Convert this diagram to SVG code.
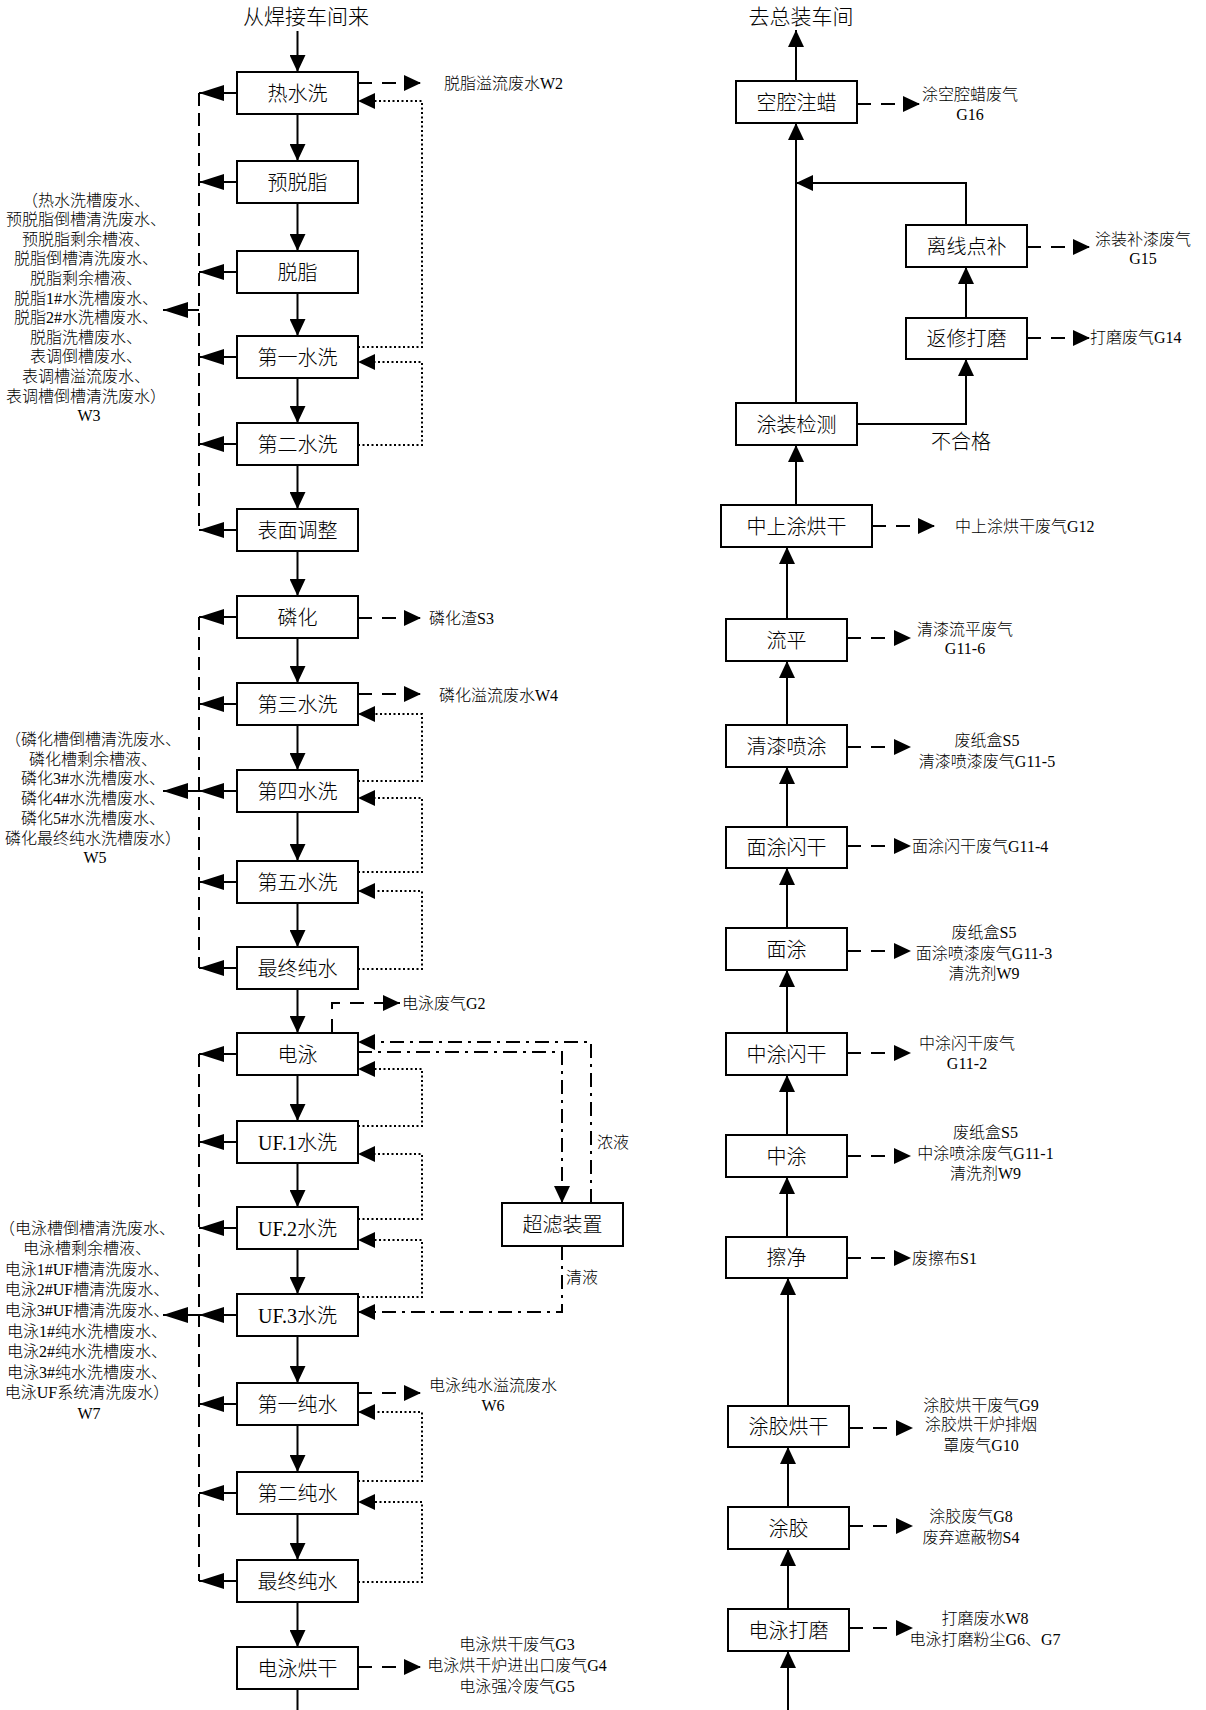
<svg xmlns="http://www.w3.org/2000/svg" width="1206" height="1710" viewBox="0 0 1206 1710">
<style>
text{font-family:"Liberation Serif","Noto Sans CJK SC",serif;fill:#000}
.b{font-size:20px;text-anchor:middle;font-weight:300}
.t{font-size:16px;font-weight:300}
.m{text-anchor:middle}
.bx{fill:#fff;stroke:#000;stroke-width:2}
.s{fill:none;stroke:#000;stroke-width:2}
.d{stroke-dasharray:14 10}
.dl{stroke-dasharray:13 7}
.dt{stroke-dasharray:2 2.5}
.dd{stroke-dasharray:14 6 3 6}
</style>
<defs>
<marker id="a" viewBox="0 0 17 16" refX="17" refY="8" markerWidth="17" markerHeight="16" markerUnits="userSpaceOnUse" orient="auto"><path d="M0,0L17,8L0,16z" fill="#000"/></marker>
<marker id="al" viewBox="0 0 25 16" refX="25" refY="8" markerWidth="25" markerHeight="16" markerUnits="userSpaceOnUse" orient="auto"><path d="M0,0L25,8L0,16z" fill="#000"/></marker>
</defs>
<rect width="1206" height="1710" fill="#fff"/>

<g id="connectors">
<!-- left main flow -->
<path class="s" marker-end="url(#a)" d="M297.5,31V72"/>
<path class="s" marker-end="url(#a)" d="M297.5,114V161"/>
<path class="s" marker-end="url(#a)" d="M297.5,203V251"/>
<path class="s" marker-end="url(#a)" d="M297.5,293V336"/>
<path class="s" marker-end="url(#a)" d="M297.5,378V423"/>
<path class="s" marker-end="url(#a)" d="M297.5,465V509"/>
<path class="s" marker-end="url(#a)" d="M297.5,551V596"/>
<path class="s" marker-end="url(#a)" d="M297.5,638V683"/>
<path class="s" marker-end="url(#a)" d="M297.5,725V770"/>
<path class="s" marker-end="url(#a)" d="M297.5,812V861"/>
<path class="s" marker-end="url(#a)" d="M297.5,903V947"/>
<path class="s" marker-end="url(#a)" d="M297.5,989V1033"/>
<path class="s" marker-end="url(#a)" d="M297.5,1075V1121"/>
<path class="s" marker-end="url(#a)" d="M297.5,1163V1207"/>
<path class="s" marker-end="url(#a)" d="M297.5,1249V1294"/>
<path class="s" marker-end="url(#a)" d="M297.5,1336V1383"/>
<path class="s" marker-end="url(#a)" d="M297.5,1425V1472"/>
<path class="s" marker-end="url(#a)" d="M297.5,1514V1560"/>
<path class="s" marker-end="url(#a)" d="M297.5,1602V1647"/>
<path class="s" d="M297.5,1689V1710"/>

<!-- left arrows to drain lines -->
<path class="s" marker-end="url(#al)" d="M237,93H199"/>
<path class="s" marker-end="url(#al)" d="M237,182H199"/>
<path class="s" marker-end="url(#al)" d="M237,272H199"/>
<path class="s" marker-end="url(#al)" d="M237,357H199"/>
<path class="s" marker-end="url(#al)" d="M237,444H199"/>
<path class="s" marker-end="url(#al)" d="M237,530H199"/>
<path class="s" marker-end="url(#al)" d="M237,617H199"/>
<path class="s" marker-end="url(#al)" d="M237,704H199"/>
<path class="s" marker-end="url(#al)" d="M237,791H199"/>
<path class="s" marker-end="url(#al)" d="M237,882H199"/>
<path class="s" marker-end="url(#al)" d="M237,968H199"/>
<path class="s" marker-end="url(#al)" d="M237,1054H199"/>
<path class="s" marker-end="url(#al)" d="M237,1142H199"/>
<path class="s" marker-end="url(#al)" d="M237,1228H199"/>
<path class="s" marker-end="url(#al)" d="M237,1315H199"/>
<path class="s" marker-end="url(#al)" d="M237,1404H199"/>
<path class="s" marker-end="url(#al)" d="M237,1493H199"/>
<path class="s" marker-end="url(#al)" d="M237,1581H199"/>
<path class="s dl" d="M199,93V530"/>
<path class="s dl" d="M199,617V968"/>
<path class="s dl" d="M199,1054V1581"/>
<path class="s" marker-end="url(#al)" d="M199,310H163"/>
<path class="s" marker-end="url(#al)" d="M199,791H163"/>
<path class="s" marker-end="url(#al)" d="M199,1315H163"/>

<!-- right dashed emissions (left column) -->
<path class="s d" marker-end="url(#a)" d="M358,83H421"/>
<path class="s d" marker-end="url(#a)" d="M358,618H421"/>
<path class="s d" marker-end="url(#a)" d="M358,694H421"/>
<path class="s d" marker-end="url(#a)" d="M358,1393H421"/>
<path class="s d" marker-end="url(#a)" d="M358,1667H421"/>
<path class="s d" marker-end="url(#a)" d="M332,1033V1003H400"/>

<!-- dotted counter-flow -->
<path class="s dt" marker-end="url(#a)" d="M358,347H422V101H358"/>
<path class="s dt" marker-end="url(#a)" d="M358,445H422V362H358"/>
<path class="s dt" marker-end="url(#a)" d="M358,781H422V714H358"/>
<path class="s dt" marker-end="url(#a)" d="M358,872H422V798H358"/>
<path class="s dt" marker-end="url(#a)" d="M358,969H422V891H358"/>
<path class="s dt" marker-end="url(#a)" d="M358,1126H422V1069H358"/>
<path class="s dt" marker-end="url(#a)" d="M358,1219H422V1154H358"/>
<path class="s dt" marker-end="url(#a)" d="M358,1297H422V1240H358"/>
<path class="s dt" marker-end="url(#a)" d="M358,1481H422V1412H358"/>
<path class="s dt" marker-end="url(#a)" d="M358,1582H422V1502H358"/>

<!-- UF dash-dot -->
<path class="s dd" marker-end="url(#a)" d="M591,1203V1042H358"/>
<path class="s dd" marker-end="url(#a)" d="M358,1052H562V1203"/>
<path class="s dd" marker-end="url(#a)" d="M562,1246V1312H358"/>

<!-- right column flow -->
<path class="s" marker-end="url(#a)" d="M796,81V30"/>
<path class="s" marker-end="url(#a)" d="M796,403V123"/>
<path class="s" marker-end="url(#a)" d="M966,225V183H796"/>
<path class="s" marker-end="url(#a)" d="M966,318V267"/>
<path class="s" marker-end="url(#a)" d="M857,424H966V359"/>
<path class="s" marker-end="url(#a)" d="M796,505V445"/>
<path class="s" marker-end="url(#a)" d="M787,619V547"/>
<path class="s" marker-end="url(#a)" d="M787,725V661"/>
<path class="s" marker-end="url(#a)" d="M787,827V767"/>
<path class="s" marker-end="url(#a)" d="M787,928V868"/>
<path class="s" marker-end="url(#a)" d="M787,1033V970"/>
<path class="s" marker-end="url(#a)" d="M787,1135V1075"/>
<path class="s" marker-end="url(#a)" d="M787,1237V1177"/>
<path class="s" marker-end="url(#a)" d="M788,1406V1278"/>
<path class="s" marker-end="url(#a)" d="M788,1507V1447"/>
<path class="s" marker-end="url(#a)" d="M788,1609V1549"/>
<path class="s" marker-end="url(#a)" d="M788,1710V1651"/>

<!-- right column emissions -->
<path class="s d" marker-end="url(#a)" d="M857,104H920"/>
<path class="s d" marker-end="url(#a)" d="M1027,247H1090"/>
<path class="s d" marker-end="url(#a)" d="M1027,338H1090"/>
<path class="s d" marker-end="url(#a)" d="M872,526H935"/>
<path class="s d" marker-end="url(#a)" d="M847,638H911"/>
<path class="s d" marker-end="url(#a)" d="M847,747H911"/>
<path class="s d" marker-end="url(#a)" d="M847,846H911"/>
<path class="s d" marker-end="url(#a)" d="M847,951H911"/>
<path class="s d" marker-end="url(#a)" d="M847,1053H911"/>
<path class="s d" marker-end="url(#a)" d="M847,1156H911"/>
<path class="s d" marker-end="url(#a)" d="M847,1258H911"/>
<path class="s d" marker-end="url(#a)" d="M849,1428H913"/>
<path class="s d" marker-end="url(#a)" d="M849,1526H913"/>
<path class="s d" marker-end="url(#a)" d="M849,1628H913"/>
</g>

<!-- left column nodes -->
<g id="start"><text class="b" x="306" y="24" style="font-size:21px">从焊接车间来</text></g>
<g id="n-rsx"><rect class="bx" x="237" y="72" width="121" height="42"/><text class="b" x="297.5" y="100.5">热水洗</text></g>
<g id="n-ytz"><rect class="bx" x="237" y="161" width="121" height="42"/><text class="b" x="297.5" y="189.5">预脱脂</text></g>
<g id="n-tz"><rect class="bx" x="237" y="251" width="121" height="42"/><text class="b" x="297.5" y="279.5">脱脂</text></g>
<g id="n-sx1"><rect class="bx" x="237" y="336" width="121" height="42"/><text class="b" x="297.5" y="364.5">第一水洗</text></g>
<g id="n-sx2"><rect class="bx" x="237" y="423" width="121" height="42"/><text class="b" x="297.5" y="451.5">第二水洗</text></g>
<g id="n-bmtz"><rect class="bx" x="237" y="509" width="121" height="42"/><text class="b" x="297.5" y="537.5">表面调整</text></g>
<g id="n-lh"><rect class="bx" x="237" y="596" width="121" height="42"/><text class="b" x="297.5" y="624.5">磷化</text></g>
<g id="n-sx3"><rect class="bx" x="237" y="683" width="121" height="42"/><text class="b" x="297.5" y="711.5">第三水洗</text></g>
<g id="n-sx4"><rect class="bx" x="237" y="770" width="121" height="42"/><text class="b" x="297.5" y="798.5">第四水洗</text></g>
<g id="n-sx5"><rect class="bx" x="237" y="861" width="121" height="42"/><text class="b" x="297.5" y="889.5">第五水洗</text></g>
<g id="n-zzcs1"><rect class="bx" x="237" y="947" width="121" height="42"/><text class="b" x="297.5" y="975.5">最终纯水</text></g>
<g id="n-dy"><rect class="bx" x="237" y="1033" width="121" height="42"/><text class="b" x="297.5" y="1061.5">电泳</text></g>
<g id="n-uf1"><rect class="bx" x="237" y="1121" width="121" height="42"/><text class="b" x="297.5" y="1149.5">UF.1水洗</text></g>
<g id="n-uf2"><rect class="bx" x="237" y="1207" width="121" height="42"/><text class="b" x="297.5" y="1235.5">UF.2水洗</text></g>
<g id="n-uf3"><rect class="bx" x="237" y="1294" width="121" height="42"/><text class="b" x="297.5" y="1322.5">UF.3水洗</text></g>
<g id="n-cs1"><rect class="bx" x="237" y="1383" width="121" height="42"/><text class="b" x="297.5" y="1411.5">第一纯水</text></g>
<g id="n-cs2"><rect class="bx" x="237" y="1472" width="121" height="42"/><text class="b" x="297.5" y="1500.5">第二纯水</text></g>
<g id="n-zzcs2"><rect class="bx" x="237" y="1560" width="121" height="42"/><text class="b" x="297.5" y="1588.5">最终纯水</text></g>
<g id="n-dyhg"><rect class="bx" x="237" y="1647" width="121" height="42"/><text class="b" x="297.5" y="1675.5">电泳烘干</text></g>
<g id="n-clzz"><rect class="bx" x="502" y="1203" width="121" height="43"/><text class="b" x="562.5" y="1232">超滤装置</text></g>

<!-- left column labels -->
<g id="lbl-w3"><text class="t m" x="88" y="205.5">
<tspan x="88" y="205.5">（热水洗槽废水、</tspan>
<tspan x="88" y="225.1">预脱脂倒槽清洗废水、</tspan>
<tspan x="88" y="244.7">预脱脂剩余槽液、</tspan>
<tspan x="88" y="264.3">脱脂倒槽清洗废水、</tspan>
<tspan x="88" y="283.9">脱脂剩余槽液、</tspan>
<tspan x="88" y="303.5">脱脂1#水洗槽废水、</tspan>
<tspan x="88" y="323.1">脱脂2#水洗槽废水、</tspan>
<tspan x="88" y="342.7">脱脂洗槽废水、</tspan>
<tspan x="88" y="362.3">表调倒槽废水、</tspan>
<tspan x="88" y="381.9">表调槽溢流废水、</tspan>
<tspan x="88" y="401.5">表调槽倒槽清洗废水）</tspan>
<tspan x="89" y="421.1">W3</tspan></text></g>
<g id="lbl-w5"><text class="t m" x="95" y="745">
<tspan x="95" y="745">（磷化槽倒槽清洗废水、</tspan>
<tspan x="95" y="764.7">磷化槽剩余槽液、</tspan>
<tspan x="95" y="784.4">磷化3#水洗槽废水、</tspan>
<tspan x="95" y="804.1">磷化4#水洗槽废水、</tspan>
<tspan x="95" y="823.8">磷化5#水洗槽废水、</tspan>
<tspan x="95" y="843.5">磷化最终纯水洗槽废水）</tspan>
<tspan x="95" y="863.2">W5</tspan></text></g>
<g id="lbl-w7"><text class="t m" x="89" y="1233.5">
<tspan x="89" y="1233.5">（电泳槽倒槽清洗废水、</tspan>
<tspan x="89" y="1254.1">电泳槽剩余槽液、</tspan>
<tspan x="89" y="1274.7">电泳1#UF槽清洗废水、</tspan>
<tspan x="89" y="1295.3">电泳2#UF槽清洗废水、</tspan>
<tspan x="89" y="1315.9">电泳3#UF槽清洗废水、</tspan>
<tspan x="89" y="1336.5">电泳1#纯水洗槽废水、</tspan>
<tspan x="89" y="1357.1">电泳2#纯水洗槽废水、</tspan>
<tspan x="89" y="1377.7">电泳3#纯水洗槽废水、</tspan>
<tspan x="89" y="1398.3">电泳UF系统清洗废水）</tspan>
<tspan x="89" y="1418.9">W7</tspan></text></g>
<g id="lbl-w2"><text class="t" x="444" y="88.5">脱脂溢流废水W2</text></g>
<g id="lbl-s3"><text class="t" x="429" y="623.5">磷化渣S3</text></g>
<g id="lbl-w4"><text class="t" x="439" y="700.5">磷化溢流废水W4</text></g>
<g id="lbl-g2"><text class="t" x="402" y="1008.5">电泳废气G2</text></g>
<g id="lbl-ny"><text class="t" x="597" y="1147.5">浓液</text></g>
<g id="lbl-qy"><text class="t" x="566" y="1282.5">清液</text></g>
<g id="lbl-w6"><text class="t m" x="493" y="1390.5"><tspan x="493" y="1390.5">电泳纯水溢流废水</tspan><tspan x="493" y="1410.5">W6</tspan></text></g>
<g id="lbl-g345"><text class="t m" x="517" y="1649.5"><tspan x="517" y="1649.5">电泳烘干废气G3</tspan><tspan x="517" y="1670.5">电泳烘干炉进出口废气G4</tspan><tspan x="517" y="1691.5">电泳强冷废气G5</tspan></text></g>

<!-- right column nodes -->
<g id="end"><text class="b" x="801" y="24" style="font-size:21px">去总装车间</text></g>
<g id="n-kqzl"><rect class="bx" x="736" y="81" width="121" height="42"/><text class="b" x="796.5" y="109.5">空腔注蜡</text></g>
<g id="n-lxdb"><rect class="bx" x="906" y="225" width="121" height="42"/><text class="b" x="966.5" y="253.5">离线点补</text></g>
<g id="n-fxdm"><rect class="bx" x="906" y="318" width="121" height="41"/><text class="b" x="966.5" y="346">返修打磨</text></g>
<g id="n-tzjc"><rect class="bx" x="736" y="403" width="121" height="42"/><text class="b" x="796.5" y="431.5">涂装检测</text></g>
<g id="lbl-bhg"><text class="b" x="961" y="449">不合格</text></g>
<g id="n-zsthg"><rect class="bx" x="721" y="505" width="151" height="42"/><text class="b" x="796.5" y="533.5">中上涂烘干</text></g>
<g id="n-lp"><rect class="bx" x="726" y="619" width="121" height="42"/><text class="b" x="786.5" y="647.5">流平</text></g>
<g id="n-qqpt"><rect class="bx" x="726" y="725" width="121" height="42"/><text class="b" x="786.5" y="753.5">清漆喷涂</text></g>
<g id="n-mtsg"><rect class="bx" x="726" y="827" width="121" height="41"/><text class="b" x="786.5" y="855">面涂闪干</text></g>
<g id="n-mt"><rect class="bx" x="726" y="928" width="121" height="42"/><text class="b" x="786.5" y="956.5">面涂</text></g>
<g id="n-ztsg"><rect class="bx" x="726" y="1033" width="121" height="42"/><text class="b" x="786.5" y="1061.5">中涂闪干</text></g>
<g id="n-zt"><rect class="bx" x="726" y="1135" width="121" height="42"/><text class="b" x="786.5" y="1163.5">中涂</text></g>
<g id="n-cj"><rect class="bx" x="726" y="1237" width="121" height="41"/><text class="b" x="786.5" y="1265">擦净</text></g>
<g id="n-tjhg"><rect class="bx" x="728" y="1406" width="121" height="41"/><text class="b" x="788.5" y="1434">涂胶烘干</text></g>
<g id="n-tj"><rect class="bx" x="728" y="1507" width="121" height="42"/><text class="b" x="788.5" y="1535.5">涂胶</text></g>
<g id="n-dydm"><rect class="bx" x="728" y="1609" width="121" height="42"/><text class="b" x="788.5" y="1637.5">电泳打磨</text></g>

<!-- right column labels -->
<g id="lbl-g16"><text class="t m" x="970" y="99.5"><tspan x="970" y="99.5">涂空腔蜡废气</tspan><tspan x="970" y="119.5">G16</tspan></text></g>
<g id="lbl-g15"><text class="t m" x="1143" y="244.5"><tspan x="1143" y="244.5">涂装补漆废气</tspan><tspan x="1143" y="263.5">G15</tspan></text></g>
<g id="lbl-g14"><text class="t" x="1090" y="342.5">打磨废气G14</text></g>
<g id="lbl-g12"><text class="t" x="955" y="531.5">中上涂烘干废气G12</text></g>
<g id="lbl-g116"><text class="t m" x="965" y="634.5"><tspan x="965" y="634.5">清漆流平废气</tspan><tspan x="965" y="653.5">G11-6</tspan></text></g>
<g id="lbl-g115"><text class="t m" x="987" y="745.5"><tspan x="987" y="745.5">废纸盒S5</tspan><tspan x="987" y="766.5">清漆喷漆废气G11-5</tspan></text></g>
<g id="lbl-g114"><text class="t" x="912" y="851.5">面涂闪干废气G11-4</text></g>
<g id="lbl-g113"><text class="t m" x="984" y="937.5"><tspan x="984" y="937.5">废纸盒S5</tspan><tspan x="984" y="958.5">面涂喷漆废气G11-3</tspan><tspan x="984" y="979">清洗剂W9</tspan></text></g>
<g id="lbl-g112"><text class="t m" x="967" y="1048.5"><tspan x="967" y="1048.5">中涂闪干废气</tspan><tspan x="967" y="1068.5">G11-2</tspan></text></g>
<g id="lbl-g111"><text class="t m" x="985.5" y="1137.5"><tspan x="985.5" y="1137.5">废纸盒S5</tspan><tspan x="985.5" y="1159">中涂喷涂废气G11-1</tspan><tspan x="985.5" y="1179">清洗剂W9</tspan></text></g>
<g id="lbl-s1"><text class="t" x="912" y="1263.5">废擦布S1</text></g>
<g id="lbl-g910"><text class="t m" x="981" y="1410.5"><tspan x="981" y="1410.5">涂胶烘干废气G9</tspan><tspan x="981" y="1430">涂胶烘干炉排烟</tspan><tspan x="981" y="1450.5">罩废气G10</tspan></text></g>
<g id="lbl-g8"><text class="t m" x="971" y="1521.5"><tspan x="971" y="1521.5">涂胶废气G8</tspan><tspan x="971" y="1542.5">废弃遮蔽物S4</tspan></text></g>
<g id="lbl-w8"><text class="t m" x="985" y="1623.5"><tspan x="985" y="1623.5">打磨废水W8</tspan><tspan x="985" y="1644.5">电泳打磨粉尘G6、G7</tspan></text></g>
</svg>
